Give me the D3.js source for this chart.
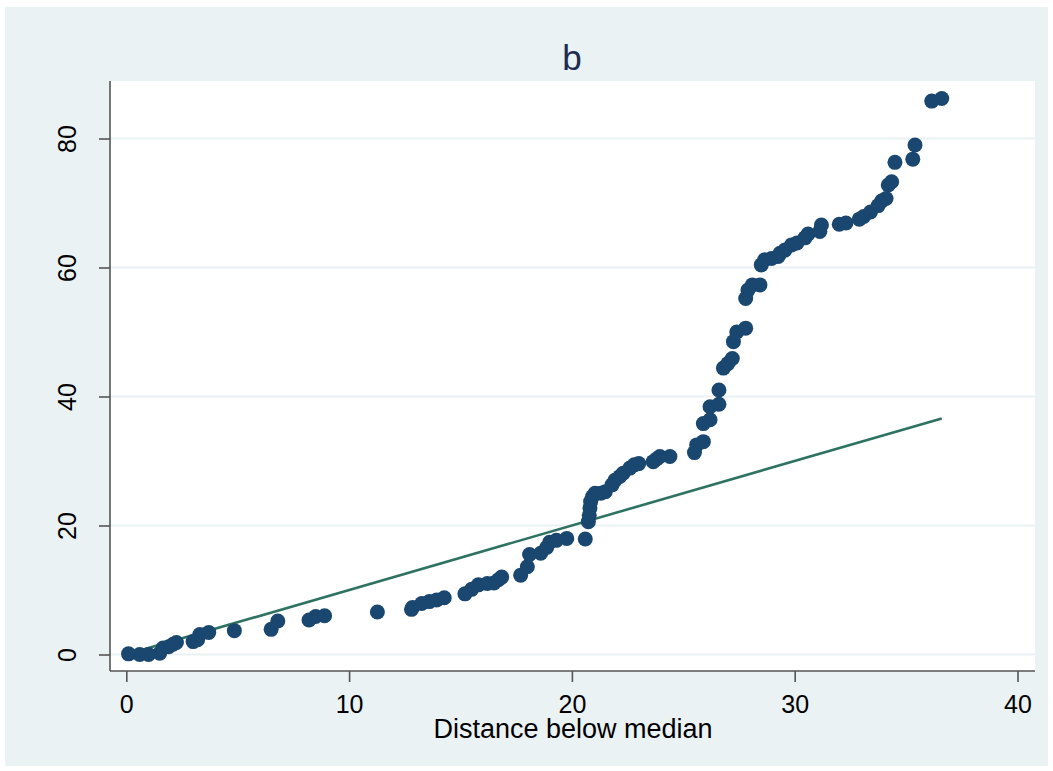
<!DOCTYPE html>
<html>
<head>
<meta charset="utf-8">
<script src="https://cdn.jsdelivr.net/npm/d3@7"></script>
<style>
  html, body { margin: 0; padding: 0; background: #ffffff; }
  svg { display: block; }
  text { font-family: "Liberation Sans", Arial, Helvetica, sans-serif; }
</style>
</head>
<body>
<svg id="chart" width="1053" height="771"></svg>
<script>
// Symmetry plot: distance below the median vs distance above the median
const distBelow = [
  0.1, 0.6, 1.0, 1.5, 1.65, 1.9, 2.1, 2.25, 3.0, 3.2,
  3.3, 3.7, 4.85, 6.5, 6.8, 8.2, 8.5, 8.9, 11.27, 12.8,
  12.85, 13.26, 13.6, 13.93, 14.27, 15.2, 15.5, 15.8, 16.2, 16.5,
  16.7, 16.85, 17.7, 18.0, 18.1, 18.6, 18.87, 19.0, 19.3, 19.77,
  20.6, 20.74, 20.78, 20.81, 20.84, 20.93, 21.04, 21.3, 21.5, 21.8,
  21.93, 22.15, 22.3, 22.6, 22.8, 23.0, 23.65, 23.8, 23.95, 24.4,
  25.5, 25.6, 25.9, 25.9, 26.2, 26.2, 26.6, 26.6, 26.8, 27.0,
  27.2, 27.25, 27.4, 27.8, 27.8, 27.9, 28.1, 28.44, 28.5, 28.65,
  28.96, 29.26, 29.34, 29.56, 29.86, 30.1, 30.46, 30.6, 31.13, 31.2,
  32.0, 32.3, 32.9, 33.1, 33.4, 33.75, 33.9, 34.1, 34.2, 34.35,
  34.5, 35.3, 35.4, 36.15, 36.6
];
const distAbove = [
  0.1, 0.0, 0.0, 0.2, 1.0, 1.2, 1.6, 1.85, 2.0, 2.3,
  3.1, 3.4, 3.7, 3.9, 5.2, 5.35, 5.9, 6.0, 6.6, 7.0,
  7.3, 7.9, 8.2, 8.45, 8.8, 9.4, 10.1, 10.8, 11.0, 11.1,
  11.6, 12.0, 12.3, 13.6, 15.5, 15.7, 16.6, 17.4, 17.7, 18.0,
  17.9, 20.6, 21.6, 22.7, 23.7, 24.5, 25.0, 25.0, 25.25, 26.3,
  27.0, 27.6, 28.1, 28.9, 29.4, 29.6, 29.9, 30.3, 30.7, 30.7,
  31.3, 32.5, 33.0, 35.8, 36.4, 38.4, 38.8, 41.0, 44.4, 45.1,
  45.9, 48.5, 50.0, 50.6, 55.2, 56.5, 57.3, 57.3, 60.4, 61.2,
  61.4, 61.7, 62.2, 62.7, 63.5, 63.8, 64.6, 65.2, 65.6, 66.6,
  66.7, 66.9, 67.5, 67.9, 68.6, 69.6, 70.3, 70.7, 72.8, 73.3,
  76.3, 76.8, 79.0, 85.8, 86.2
];
const xTicks = [0, 10, 20, 30, 40];
const yTicks = [0, 20, 40, 60, 80];
const titleText = "b";
const xTitle = "Distance below median";

const svg = d3.select("#chart");

// outer graph region
svg.append("rect")
  .attr("x", 5).attr("y", 7).attr("width", 1043).attr("height", 759)
  .attr("fill", "#eaf2f3");

// plot region
const plot = { left: 110, right: 1035, top: 81, bottom: 671 };
svg.append("rect")
  .attr("x", plot.left).attr("y", plot.top)
  .attr("width", plot.right - plot.left).attr("height", plot.bottom - plot.top)
  .attr("fill", "#ffffff");

const x = d3.scaleLinear().domain([0, 40]).range([126.3, 1017.5]);
const y = d3.scaleLinear().domain([0, 80]).range([654.5, 138.5]);

// horizontal grid lines
svg.append("g").selectAll("line")
  .data(yTicks).join("line")
  .attr("x1", plot.left).attr("x2", plot.right)
  .attr("y1", d => y(d)).attr("y2", d => y(d))
  .attr("stroke", "#eaf2f3").attr("stroke-width", 2);

// y axis
const yAxis = svg.append("g")
  .attr("transform", `translate(${plot.left},0)`)
  .call(d3.axisLeft(y).tickValues(yTicks).tickSize(11).tickPadding(0).tickFormat(d3.format("d")));
yAxis.select(".domain").attr("d", `M0,${plot.top}V${plot.bottom}`)
  .attr("stroke", "#555").attr("stroke-width", 1.6);
yAxis.selectAll(".tick line").attr("stroke", "#555").attr("stroke-width", 1.6);
yAxis.selectAll(".tick text")
  .attr("font-size", 25).attr("fill", "#000")
  .attr("text-anchor", "middle")
  .attr("transform", "translate(-43,0) rotate(-90)")
  .attr("x", 0).attr("y", 0).attr("dy", "0.36em");

// x axis
const xAxis = svg.append("g")
  .attr("transform", `translate(0,${plot.bottom})`)
  .call(d3.axisBottom(x).tickValues(xTicks).tickSize(11).tickPadding(0).tickFormat(d3.format("d")));
xAxis.select(".domain").attr("d", `M${plot.left},0H${plot.right}`)
  .attr("stroke", "#555").attr("stroke-width", 1.6);
xAxis.selectAll(".tick line").attr("stroke", "#555").attr("stroke-width", 1.6);
xAxis.selectAll(".tick text")
  .attr("font-size", 25).attr("fill", "#000")
  .attr("y", 42).attr("dy", 0);

// reference line y = x
const xExtent = d3.extent(distBelow);
svg.append("line")
  .attr("x1", x(xExtent[0])).attr("y1", y(xExtent[0]))
  .attr("x2", x(xExtent[1])).attr("y2", y(xExtent[1]))
  .attr("stroke", "#2e7262").attr("stroke-width", 2.6);

// points
const pts = distBelow.map((d, i) => ({ xv: d, yv: distAbove[i] }));
svg.append("g").selectAll("circle")
  .data(pts).join("circle")
  .attr("cx", d => x(d.xv)).attr("cy", d => y(d.yv))
  .attr("r", 7.5)
  .attr("fill", "#1a476f");

// titles
svg.append("text")
  .attr("x", 572).attr("y", 70)
  .attr("text-anchor", "middle")
  .attr("font-size", 35).attr("fill", "#1e2c52")
  .text(titleText);

svg.append("text")
  .attr("x", 573).attr("y", 738)
  .attr("text-anchor", "middle")
  .attr("font-size", 27).attr("fill", "#000")
  .text(xTitle);
</script>
</body>
</html>
